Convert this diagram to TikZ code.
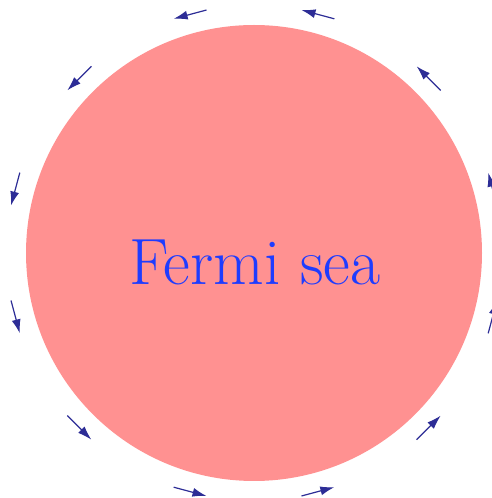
\documentclass[tikz,border=0pt]{standalone}
\usetikzlibrary{arrows.meta,calc}
\definecolor{seacol}{RGB}{255,145,145}
\definecolor{arrcol}{RGB}{45,45,150}
\definecolor{txtcol}{RGB}{30,60,255}
\begin{document}
\begin{tikzpicture}[x=1pt,y=1pt,
  flow/.style={arrcol,line width=1.2pt,-{Latex[length=14pt,width=9pt]}}]
\useasboundingbox (0,0) rectangle (491,498);
\coordinate (c) at (254,245);
\fill[seacol] (c) circle (228);
\node[text=txtcol,font=\fontsize{65.5}{66}\selectfont] (lbl) at (255,236) {Fermi sea};
\foreach \i in {0,...,11}{
  \pgfmathsetmacro{\a}{15+30*\i}
  \coordinate (m\i) at ($(c)+(\a:247)$);
  \coordinate (t\i) at ($(m\i)+(\a-90:17)$);
  \coordinate (h\i) at ($(m\i)+(\a+90:17)$);
  \draw[flow] (t\i) -- (h\i);
}
\end{tikzpicture}
\end{document}
